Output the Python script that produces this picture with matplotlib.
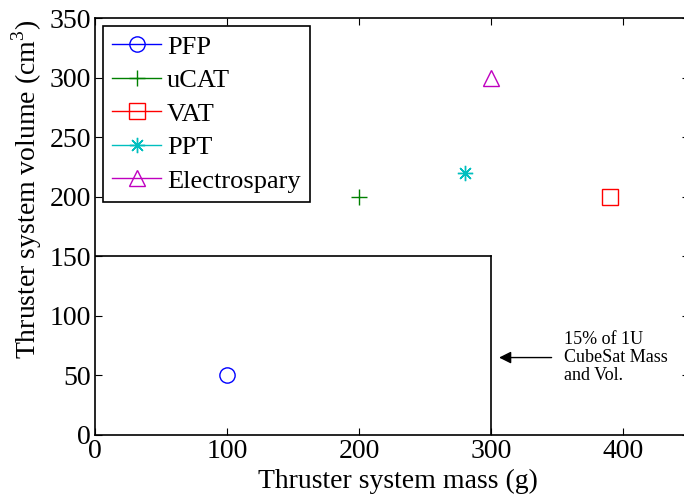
import matplotlib
matplotlib.use("Agg")
import matplotlib.pyplot as plt

plt.rcParams["font.family"] = ["Liberation Serif", "DejaVu Serif"]
plt.rcParams["mathtext.fontset"] = "custom"
plt.rcParams["mathtext.rm"] = "Liberation Serif"

# Thruster data: mass (g), volume (cm^3)
names = ["PFP", "uCAT", "VAT", "PPT", "Electrospary"]
mass = [100, 200, 390, 280, 300]
volume = [50, 200, 200, 220, 300]
colors = ["#0000ff", "#008000", "#ff0000", "#00bfbf", "#bf00bf"]
markers = ["o", "+", "s", (8, 2, 0), "^"]

# 15% of 1U CubeSat limits
limit_mass = 300
limit_volume = 150

fig = plt.figure(figsize=(6.84, 5.0), dpi=100)
ax = fig.add_axes([95 / 684, 1 - 435 / 500, 594 / 684, 417 / 500])

for n, m, v, c, mk in zip(names, mass, volume, colors, markers):
    ax.plot([m], [v], linestyle="-", color=c, marker=mk, markersize=11,
            markerfacecolor="none", markeredgecolor=c, markeredgewidth=1.0,
            linewidth=1.0, label=n)

# box showing the 15% limit
ax.plot([0, limit_mass], [limit_volume, limit_volume], color="black", linewidth=1.2)
ax.plot([limit_mass, limit_mass], [0, limit_volume], color="black", linewidth=1.2)

ax.annotate("", xy=(304, 65), xytext=(348, 65),
            arrowprops=dict(arrowstyle="-|>", color="black", lw=1.0,
                            mutation_scale=18))
ax.text(355, 65, "15% of 1U\nCubeSat Mass\nand Vol.", fontsize=13,
        va="center", ha="left", linespacing=1.1)

ax.set_xlim(0, 450)
ax.set_ylim(0, 350)
ax.set_xticks([0, 100, 200, 300, 400])
ax.set_yticks(range(0, 351, 50))
ax.tick_params(direction="in", labelsize=20, length=5, top=True, right=True,
               pad=3)
ax.set_xlabel("Thruster system mass (g)", fontsize=20)
ax.set_ylabel("Thruster system volume (cm$^3$)", fontsize=20)
ax.xaxis.set_label_coords(0.51, -0.08)
ax.yaxis.set_label_coords(-0.086, 0.588)
for s in ax.spines.values():
    s.set_linewidth(1.2)

leg = ax.legend(loc="upper left", fontsize=19, handlelength=1.85,
                handletextpad=0.22, borderaxespad=0.3, labelspacing=0.38,
                borderpad=0.35, fancybox=False, edgecolor="black", framealpha=1)
leg.get_frame().set_linewidth(1.2)

fig.savefig("out.png", dpi=100)
